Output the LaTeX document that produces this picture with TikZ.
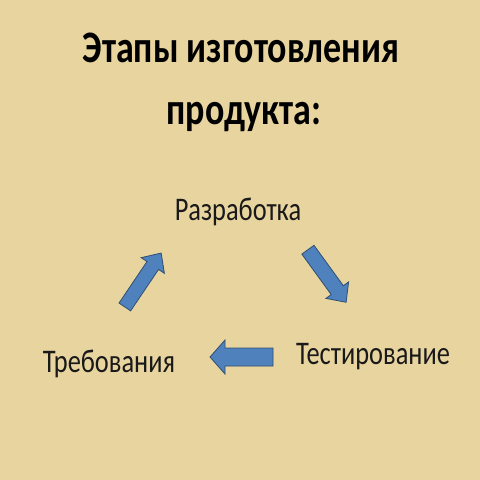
\documentclass[tikz,border=0pt]{standalone}
\usepackage{fontspec}
\setmainfont{Carlito}
\tikzset{
  lbl/.style={inner sep=0pt, anchor=base, xscale=0.8, font=\fontsize{33}{38}\selectfont, text=black!90},
  ttl/.style={inner sep=0pt, anchor=base, xscale=0.8, font=\fontsize{45}{54}\selectfont\bfseries, text=black},
  barrow/.style={fill=arrowblue, draw=arrowedge, line width=0.8pt, line join=miter}
}
\definecolor{bg}{HTML}{E8D49E}
\definecolor{arrowblue}{HTML}{4F81BD}
\definecolor{arrowedge}{HTML}{2F4F73}
\begin{document}
\begin{tikzpicture}[x=1pt,y=-1pt]
\fill[bg] (0,0) rectangle (480,480);
\useasboundingbox (0,0) rectangle (480,480);
\node[ttl] (t1) at (241,62) {Этапы изготовления};
\node[ttl] (t2) at (244,124) {продукта:};
\node[lbl] (dev) at (238,220) {Разработка};
\node[lbl] (test) at (373,364) {Тестирование};
\node[lbl] (req) at (109,372) {Требования};
% arrow 1: Требования -> Разработка
\begin{scope}[shift={(143,280)}, rotate=56]
\draw[barrow] (-32.5,-7) -- (17.5,-7) -- (17.5,-14) -- (32.5,0) -- (17.5,14) -- (17.5,7) -- (-32.5,7) -- cycle;
\end{scope}
% arrow 2: Разработка -> Тестирование
\begin{scope}[shift={(327,276)}, rotate=-54]
\draw[barrow] (-32.5,-7.5) -- (17.5,-7.5) -- (17.5,-14) -- (32.5,0) -- (17.5,14) -- (17.5,7.5) -- (-32.5,7.5) -- cycle;
\end{scope}
% arrow 3: Тестирование -> Требования
\begin{scope}[shift={(241.5,357)}, rotate=180]
\draw[barrow] (-31.5,-9) -- (16.5,-9) -- (16.5,-17) -- (31.5,0) -- (16.5,17) -- (16.5,9) -- (-31.5,9) -- cycle;
\end{scope}
\end{tikzpicture}
\end{document}
